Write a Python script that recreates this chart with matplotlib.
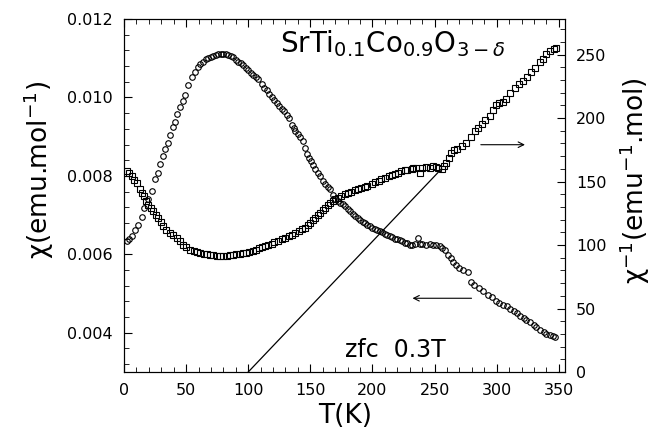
import matplotlib
matplotlib.use("Agg")
import matplotlib.pyplot as plt
from matplotlib.ticker import MultipleLocator

# chi(T), zfc 0.3 T  (circles, left axis)
t_chi = [2.1, 4, 6.2, 8.8, 11.5, 14.2, 16.1, 19.6, 22.3, 24.9, 27.6, 29, 31.6, 33, 35.6, 37,
         39.7, 41, 42.9, 45, 47.7, 49, 51.8, 54.5, 57, 59.8, 61.5, 63.8, 66, 67.8, 70, 71.8,
         74, 75.9, 78, 79.9, 82, 83.9, 86, 87.9, 90, 92, 94, 96, 98, 100, 102, 104, 106, 108,
         110.8, 113, 114.8, 117, 119, 121, 123, 125, 127, 129, 131, 133, 135, 136.5, 138, 140,
         142, 144, 146, 147.5, 149, 150.5, 152, 154, 156, 158, 160, 162, 164, 166, 168, 170,
         172, 174, 176, 178, 180, 182, 184, 186, 188, 190, 192, 194, 196, 198, 200, 202, 204,
         206, 208, 210, 212, 214, 216, 218, 220, 222, 224, 226, 228, 230, 232, 234, 236.8, 238,
         240, 243.5, 246, 248.9, 251, 254, 256, 258, 261, 263, 265, 267, 270, 273, 277, 279.7,
         282, 286, 289, 293, 296, 299.8, 302, 305, 308, 311, 314, 316, 319, 322, 324, 327, 330,
         332, 335, 338, 340, 343, 345, 346.7]
chi = [0.00633, 0.00640, 0.00646, 0.00663, 0.00676, 0.00696, 0.00718, 0.00740, 0.00762,
       0.00792, 0.00808, 0.00830, 0.00851, 0.00868, 0.00885, 0.00903, 0.00924, 0.00938,
       0.00958, 0.00975, 0.00990, 0.01005, 0.01031, 0.01052, 0.01065, 0.01078, 0.01085,
       0.01091, 0.01097, 0.01101, 0.01104, 0.01106, 0.01108, 0.01110, 0.01111, 0.01112,
       0.01110, 0.01108, 0.01106, 0.01103, 0.01096, 0.01091, 0.01087, 0.01082, 0.01075,
       0.01069, 0.01062, 0.01056, 0.01052, 0.01048, 0.01035, 0.01025, 0.01018, 0.01008,
       0.01001, 0.00994, 0.00986, 0.00979, 0.00971, 0.00965, 0.00956, 0.00948, 0.00930,
       0.00921, 0.00914, 0.00906, 0.00898, 0.00888, 0.00870, 0.00856, 0.00846, 0.00838,
       0.00828, 0.00818, 0.00808, 0.00800, 0.00787, 0.00780, 0.00772, 0.00767, 0.00752,
       0.00742, 0.00737, 0.00731, 0.00728, 0.00722, 0.00716, 0.00710, 0.00703, 0.00698,
       0.00692, 0.00688, 0.00683, 0.00679, 0.00676, 0.00671, 0.00668, 0.00665, 0.00662,
       0.00659, 0.00656, 0.00652, 0.00649, 0.00646, 0.00643, 0.00640, 0.00638, 0.00637,
       0.00633, 0.00629, 0.00628, 0.00625, 0.00623, 0.00627, 0.00642, 0.00626, 0.00627,
       0.00625, 0.00626, 0.00625, 0.00624, 0.00620, 0.00617, 0.00612, 0.00599, 0.00590,
       0.00580, 0.00574, 0.00565, 0.00560, 0.00555, 0.00529, 0.00523, 0.00514, 0.00506,
       0.00497, 0.00490, 0.00480, 0.00477, 0.00472, 0.00467, 0.00461, 0.00455, 0.00450,
       0.00444, 0.00437, 0.00433, 0.00427, 0.00420, 0.00415, 0.00408, 0.00402, 0.00398,
       0.00394, 0.00391, 0.00388]

# 1/chi(T)  (squares, right axis)
t_inv = [2.1, 4, 6.2, 8, 10.2, 12.9, 14.5, 16, 18, 19.6, 21.5, 23.6, 25.5, 27.6, 29.5, 31.6,
         34, 37, 39.5, 42.4, 45, 47.7, 50, 53, 56, 58.5, 61, 64, 67, 69, 72, 75, 77, 80, 83,
         85, 88, 90, 93, 96, 98, 101, 104, 106, 109, 111, 113.4, 116, 119, 121, 124, 127, 130,
         132.5, 135, 138, 141, 143, 145.6, 148, 150, 152, 153.7, 156, 158, 160, 161.7, 164,
         166, 168, 169.7, 172, 175, 177.8, 180, 183, 186, 188.5, 191, 194, 196, 199.3, 202,
         205, 207, 210, 213, 216, 218, 220.7, 223, 226, 228, 231.5, 232.7, 235, 238, 240, 243,
         246, 248.9, 251, 253, 255.6, 257.5, 259.6, 261.5, 263.6, 266, 268, 271.7, 275.7, 279,
         282.4, 285, 287.8, 291, 294.4, 297, 299.8, 302, 305, 307.9, 311, 314.6, 318, 321.2,
         324.5, 328, 331, 334.7, 337, 340, 343, 346, 347.5]
inv_chi = [158.2, 156.5, 154.3, 151.5, 149, 143.8, 141, 138.5, 135, 131.9, 129, 126.6, 124,
           121.4, 118, 114.8, 112, 109.6, 107.5, 105.6, 103, 100.3, 98.5, 96.4, 95, 94.3,
           93.8, 93, 92.6, 92.4, 91.8, 91.3, 91.1, 91.3, 91.6, 91.9, 92.3, 92.6, 93, 93.6, 94,
           94.5, 95.5, 96.3, 97.7, 98.5, 99, 99.8, 101, 102, 102.9, 104.5, 105.8, 107, 108.2,
           109.5, 111, 112.3, 113.5, 115.5, 117.5, 119.5, 121.4, 123.5, 125.3, 127.5, 129.3,
           131.5, 133, 134.5, 135.9, 137, 138.6, 139.8, 140.8, 142, 143, 143.8, 144.8, 146,
           146.8, 147.7, 149.3, 150.5, 151.8, 153, 154, 155.2, 156, 157, 158.5, 159, 159.3,
           159.6, 160.9, 160.5, 156.4, 160.8, 161.5, 161, 162.2, 161.5, 161, 159.6, 162, 164.8,
           168.5, 172.7, 174.5, 175.5, 178, 180.6, 185, 189.8, 192.5, 195.1, 198.5, 201.7,
           206, 210.1, 211.5, 213, 214.8, 219.5, 224, 226.5, 229.3, 232.5, 235.9, 239.5,
           243.8, 246.5, 250.4, 252.5, 254.3, 255]

# Curie-Weiss line
t_fit = [100, 255.6]
inv_fit = [0, 160]

fig = plt.figure(figsize=(6.52, 4.30), dpi=100)
ax = fig.add_axes([124 / 652, 1 - 372 / 430, 441 / 652, 353 / 430])
ax2 = ax.twinx()

ax.plot(t_chi, chi, "o", ms=4.0, mfc="none", mec="black", mew=0.8)
ax2.plot(t_inv, inv_chi, "s", ms=3.8, mfc="none", mec="black", mew=0.8)
ax2.plot(t_fit, inv_fit, "-", color="black", lw=0.9)

ax.set_xlim(0, 355)
ax.set_ylim(0.003, 0.012)
ax2.set_ylim(0, 278)

ax.xaxis.set_major_locator(MultipleLocator(50))
ax.xaxis.set_minor_locator(MultipleLocator(10))
ax.yaxis.set_major_locator(MultipleLocator(0.002))
ax.yaxis.set_minor_locator(MultipleLocator(0.0004))
ax2.yaxis.set_major_locator(MultipleLocator(50))
ax2.yaxis.set_minor_locator(MultipleLocator(10))
ax.yaxis.set_major_formatter(plt.FuncFormatter(lambda v, p: "%.3f" % v))

ax.tick_params(axis="x", which="both", direction="in", top=True, labelsize=11.5, pad=8)
ax.tick_params(axis="y", which="both", direction="in", labelsize=11.5, pad=8)
ax.tick_params(which="major", length=6)
ax.tick_params(which="minor", length=3.5)
ax2.tick_params(axis="y", which="both", direction="in", labelsize=11.5, pad=8)
ax2.tick_params(which="major", length=6)
ax2.tick_params(which="minor", length=3.5)

# arrows pointing to the axis of each curve
ax2.annotate("", xy=(325, 179), xytext=(285, 179),
             arrowprops=dict(arrowstyle="->", lw=0.8, color="black", mutation_scale=10))
ax.annotate("", xy=(230, 0.00488), xytext=(282, 0.00488),
            arrowprops=dict(arrowstyle="->", lw=0.8, color="black", mutation_scale=10))

ax.text(0.354, 0.907, r"SrTi$_{0.1}$Co$_{0.9}$O$_{3-\delta}$", transform=ax.transAxes,
        fontsize=20, va="baseline", ha="left")
ax.text(0.501, 0.0425, "zfc  0.3T", transform=ax.transAxes,
        fontsize=17, va="baseline", ha="left")

fig.text(345 / 652, 1 - 416 / 430, "T(K)", fontsize=19, ha="center", va="center")
fig.text(39 / 652, 1 - 170 / 430, r"χ(emu.mol$^{-1}$)", fontsize=19,
         rotation=90, ha="center", va="center")
fig.text(635 / 652, 1 - 181 / 430, r"χ$^{-1}$(emu$^{-1}$.mol)", fontsize=19,
         rotation=90, ha="center", va="center")

fig.savefig("out.png", dpi=100)
